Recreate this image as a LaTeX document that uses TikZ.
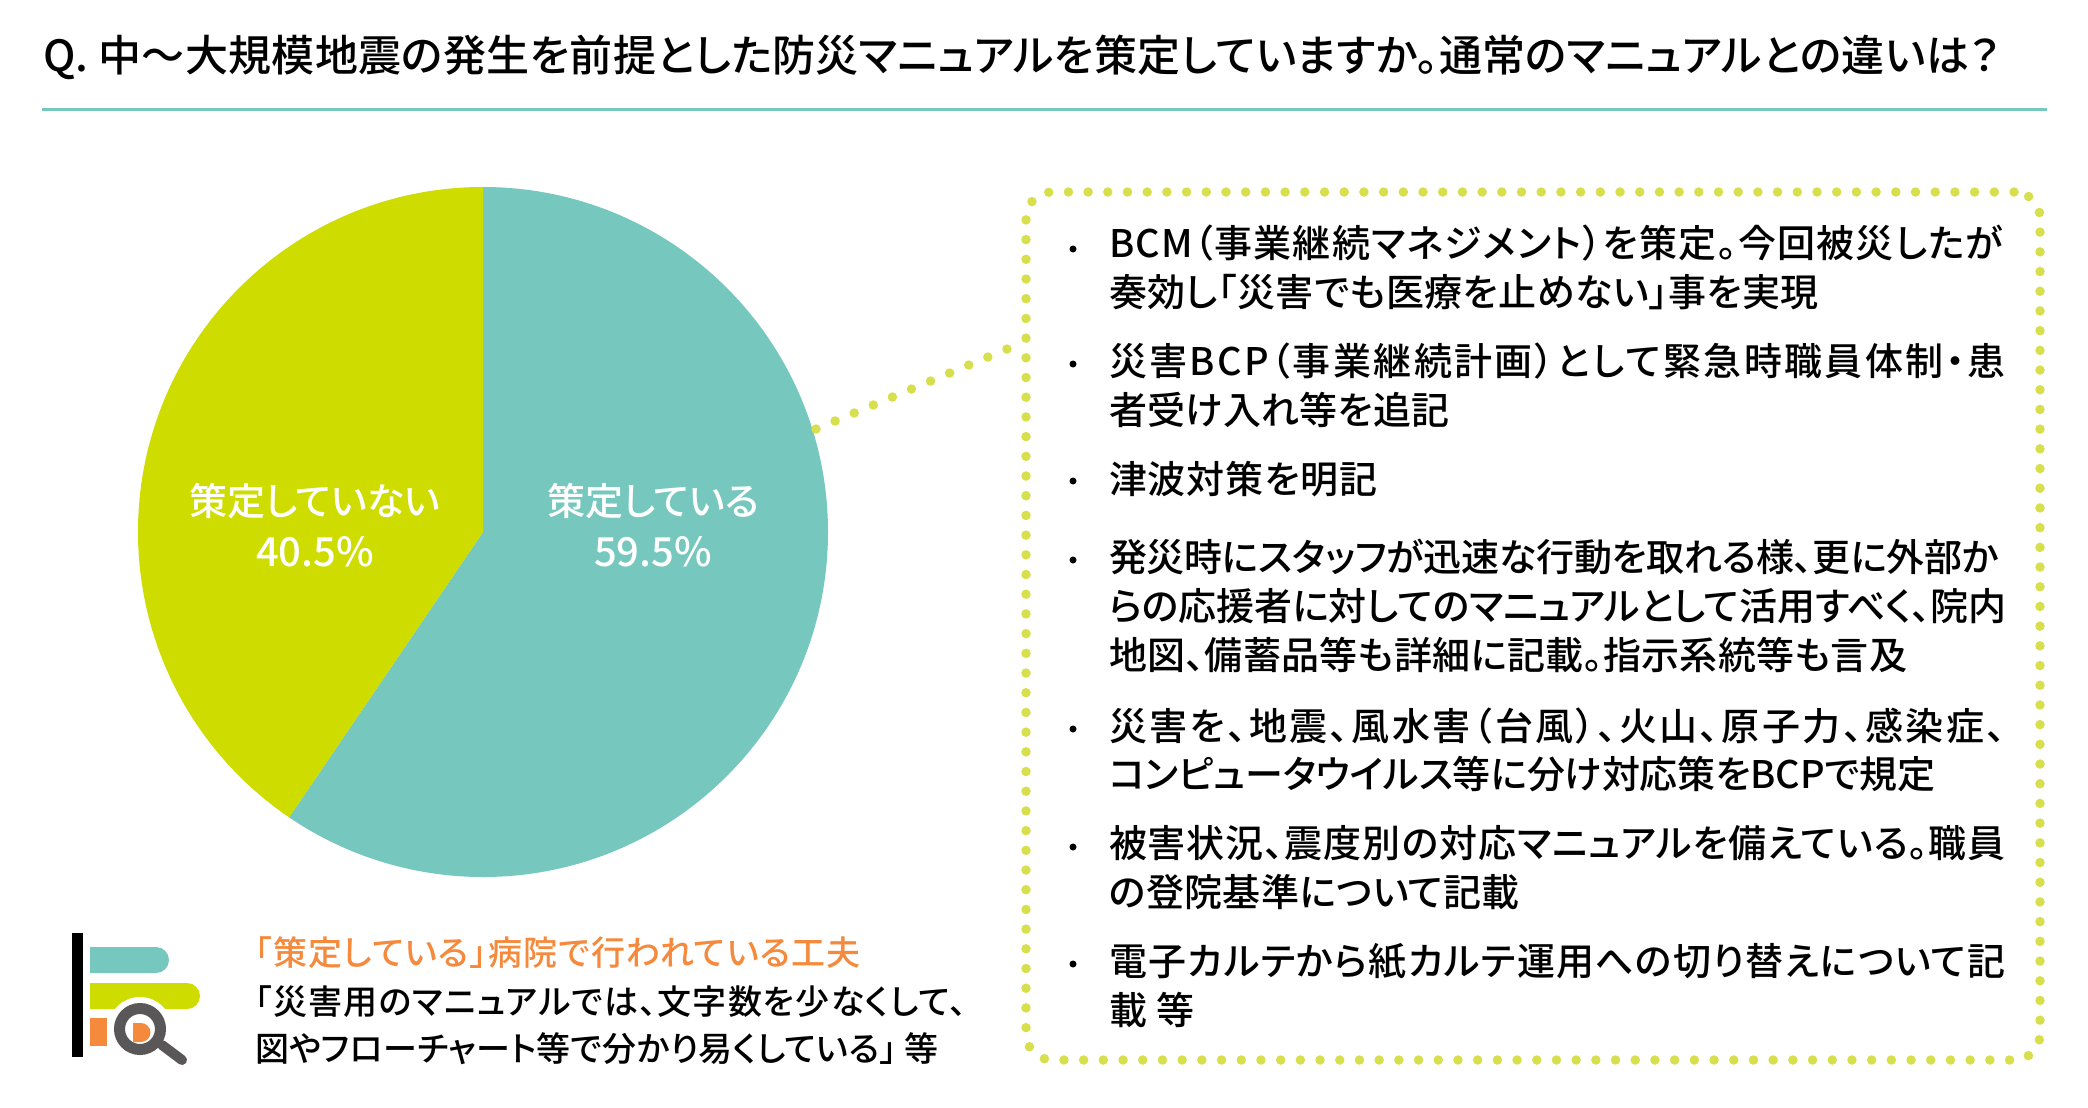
\documentclass[tikz,border=0pt]{standalone}
\usepackage{fontspec}
\setmainfont[RawFeature=+palt]{Noto Sans CJK JP Medium}
\definecolor{teal}{HTML}{76C7BE}
\definecolor{lime}{HTML}{CEDC00}
\definecolor{dotlime}{HTML}{D7E04C}
\definecolor{orng}{HTML}{F58A3C}
\definecolor{dgrey}{HTML}{595757}
\newcommand{\ls}[1]{\addfontfeatures{LetterSpace=#1}}
\tikzset{
  x=1pt,y=-1pt,
  inner sep=0pt,outer sep=0pt,
  title/.style={anchor=base west,font=\fontsize{43pt}{43pt}\selectfont\ls{0.7}},
  item/.style={anchor=base west,font=\fontsize{38pt}{38pt}\selectfont},
  note/.style={anchor=base west,font=\fontsize{34pt}{34pt}\selectfont},
  pielabel/.style={anchor=base,text=white,align=center,font=\fontsize{38pt}{38pt}\selectfont},
  pienum/.style={anchor=base,text=white,align=center,font=\fontsize{40pt}{40pt}\selectfont},
  dotline/.style={draw=dotlime,line width=9.5pt,line cap=round,dash pattern=on 0pt off 19.7pt},
  dotlink/.style={draw=dotlime,line width=9.5pt,line cap=round,dash pattern=on 0pt off 20.7pt},
}
\begin{document}
\begin{tikzpicture}
\useasboundingbox (0,0) rectangle (2088,1108);
\fill[white] (0,0) rectangle (2088,1108);
% title
\node[title] (ttl) at (43,72) {Q. 中〜大規模地震の発生を前提とした防災マニュアルを策定していますか。通常のマニュアルとの違いは？};
\coordinate (ruleL) at (42,109);
\coordinate (ruleR) at (2047,109);
\draw[teal,line width=3pt] (ruleL) -- (ruleR);
% pie
\coordinate (c) at (483,532);
\fill[teal] (c) -- (483,187) arc[start angle=90,end angle=-124.2,radius=345pt] -- cycle;
\fill[lime] (c) -- (483,187) arc[start angle=90,end angle=235.8,radius=345pt] -- cycle;
\node[pielabel] (la1) at (653,515) {策定している};
\node[pienum] (la2) at (653,566) {59.5\%};
\node[pielabel] (lb1) at (315,515) {策定していない};
\node[pienum] (lb2) at (315,566) {40.5\%};
% box
\node[dotline,rectangle,rounded corners=26pt,minimum width=1014pt,minimum height=868pt] (box) at (1533,626) {};
\coordinate (pieedge) at (816,429);
\coordinate (boxedge) at (1008,348.6);
\draw[dotlink] (pieedge) -- (boxedge);
% items
\foreach \yy in {249,364,481,560,729,847,964}{\fill[black] (1073,\yy) circle (3.5pt);}
\node[item] (i1) at (1109,257) {\ls{3.3}BCM（事業継続マネジメント）を策定。今回被災したが};
\node[item] (i2) at (1109,306) {\ls{1}奏効し「災害でも医療を止めない」事を実現};
\node[item] (i3) at (1109,375) {\ls{6.3}災害BCP（事業継続計画）として緊急時職員体制・患};
\node[item] (i4) at (1109,424) {\ls{0.9}者受け入れ等を追記};
\node[item] (i5) at (1109,493) {\ls{2.3}津波対策を明記};
\node[item] (i6) at (1109,571) {\ls{-0.6}発災時にスタッフが迅速な行動を取れる様、更に外部か};
\node[item] (i7) at (1109,620) {\ls{-0.1}らの応援者に対してのマニュアルとして活用すべく、院内};
\node[item] (i8) at (1109,669) {\ls{0.7}地図、備蓄品等も詳細に記載。指示系統等も言及};
\node[item] (i9) at (1109,740) {\ls{6.7}災害を、地震、風水害（台風）、火山、原子力、感染症、};
\node[item] (i10) at (1109,788) {\ls{-0.4}コンピュータウイルス等に分け対応策をBCPで規定};
\node[item] (i11) at (1109,857) {\ls{2.5}被害状況、震度別の対応マニュアルを備えている。職員};
\node[item] (i12) at (1109,906) {\ls{1.1}の登院基準について記載};
\node[item] (i13) at (1109,975) {\ls{3.3}電子カルテから紙カルテ運用への切り替えについて記};
\node[item] (i14) at (1109,1024) {\ls{3.3}載 等};
% bottom note
\node[note,text=orng] (n1) at (255,965) {\ls{3.5}「策定している」病院で行われている工夫};
\node[note] (n2) at (255,1014) {\ls{3.5}「災害用のマニュアルでは、文字数を少なくして、};
\node[note] (n3) at (255,1061) {\ls{0.9}図やフローチャート等で分かり易くしている」 等};
% icon
\fill[black] (72,933) rectangle (83,1057);
\fill[teal] (90,947) -- (156,947) arc[start angle=90,end angle=-90,radius=13pt] -- (90,973) -- cycle;
\fill[lime] (90,983) -- (187,983) arc[start angle=90,end angle=-90,radius=13pt] -- (90,1009) -- cycle;
\fill[orng] (90,1018) rectangle (107,1046);
\fill[white] (140,1029) circle (32pt);
\draw[dgrey,line width=10pt,line cap=round] (162,1045) -- (182,1060);
\draw[dgrey,line width=11pt] (140,1029) circle (20.5pt);
\fill[orng] (133,1023) -- (141,1023) arc[start angle=90,end angle=-90,radius=9.5pt] -- (133,1042) -- cycle;
\end{tikzpicture}
\end{document}
